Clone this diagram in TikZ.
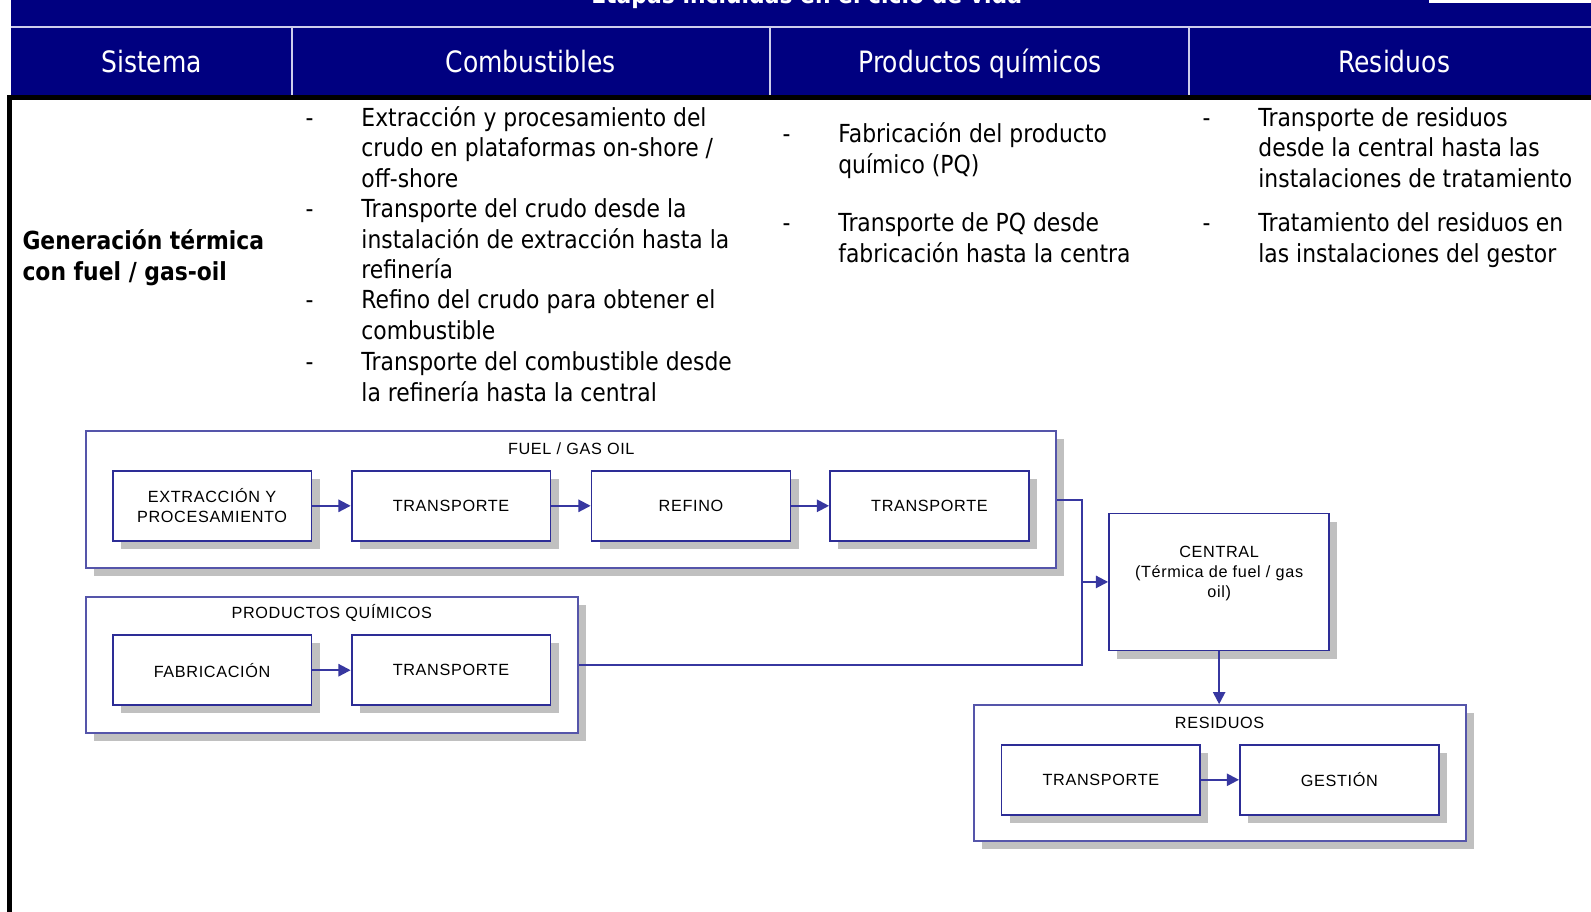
\documentclass[tikz,border=0pt]{standalone}
\usepackage{fontspec}
\setmainfont{DejaVu Sans}[FakeStretch=0.88]
\newfontfamily\headfont{DejaVu Sans}[FakeStretch=0.85]
\newfontfamily\diafont{Liberation Sans}[LetterSpace=4]
\usetikzlibrary{arrows.meta,shadows}
\definecolor{navy}{RGB}{0,0,128}
\definecolor{seplav}{RGB}{205,205,235}
\definecolor{boxblue}{RGB}{45,45,150}
\definecolor{outerblue}{RGB}{85,85,170}
\definecolor{linkblue}{RGB}{55,55,160}
\definecolor{shade}{RGB}{192,192,192}
\begin{document}
\begin{tikzpicture}[x=1pt,y=-1pt,
  hcell/.style={fill=navy, draw=none, inner sep=0, minimum height=67, anchor=north west},
  htext/.style={text=white, inner sep=0, anchor=base, font=\headfont\fontsize{29}{34}\selectfont},
  sepline/.style={draw=seplav, line width=1.6},
  bodytext/.style={anchor=base west, inner sep=0, align=left, font=\fontsize{24.5}{30.2}\selectfont},
  boldtext/.style={bodytext, font=\bfseries\fontsize{24.5}{30.2}\selectfont},
  dashmark/.style={anchor=base west, inner sep=0, font=\fontsize{24.5}{30.2}\selectfont},
  boxshadow/.style={drop shadow={shadow xshift=8pt, shadow yshift=-8pt, fill=shade, opacity=1}},
  container/.style={draw=outerblue, line width=2, fill=white, inner sep=0, boxshadow},
  stepbox/.style={draw=boxblue, line width=1.8, fill=white, inner sep=0, minimum width=196, minimum height=69, align=center, font=\diafont\fontsize{16}{20}\selectfont, boxshadow},
  grouplabel/.style={inner sep=0, anchor=base, font=\diafont\fontsize{16}{20}\selectfont},
  link/.style={draw=linkblue, line width=2},
  arr/.style={link, -{Triangle[length=12pt,width=12pt]}}
]
\useasboundingbox (0,0) rectangle (1568,898);
\clip (0,0) rectangle (1568,898);
\fill[white] (0,0) rectangle (1568,898);

% title band
\fill[navy] (11,0) rectangle (1590,27);
\node[text=white, anchor=base, inner sep=0, font=\bfseries\fontsize{24.5}{30}\selectfont] (title) at (795,3) {Etapas incluidas en el ciclo de vida};
\fill[white] (1408,0) rectangle (1590,3.2);
\fill[seplav] (11,25.6) rectangle (1590,27.6);

% header cells
\node[hcell, minimum width=277] (cs) at (11,27.6) {};
\node[hcell, minimum width=471] (cc) at (288,27.6) {};
\node[hcell, minimum width=413] (cp) at (759,27.6) {};
\node[hcell, minimum width=420] (cr) at (1172,27.6) {};
\draw[sepline] (cc.north west) -- (cc.south west);
\draw[sepline] (cp.north west) -- (cp.south west);
\draw[sepline] (cr.north west) -- (cr.south west);
\node[htext] (ts) at (149.5,71) {Sistema};
\node[htext] (tc) at (523,71) {Combustibles};
\node[htext] (tp) at (966,71) {Productos químicos};
\node[htext] (tr) at (1374,71) {Residuos};

% black frame
\draw[line width=5, black] (9.8,910) -- (9.8,96.2) -- (1590,96.2);

% body: sistema (anchor = baseline of last line)
\node[boldtext] (sis) at (22,276.5) {Generación térmica\\con fuel / gas-oil};

% combustibles
\node[dashmark] (d1) at (301,124.5) {-};
\node[bodytext] (c1) at (356,184.9) {Extracción y procesamiento del\\crudo en plataformas on-shore /\\off-shore};
\node[dashmark] (d2) at (301,214.5) {-};
\node[bodytext] (c2) at (356,274.9) {Transporte del crudo desde la\\instalación de extracción hasta la\\refinería};
\node[dashmark] (d3) at (301,304.5) {-};
\node[bodytext] (c3) at (356,334.7) {Refino del crudo para obtener el\\combustible};
\node[dashmark] (d4) at (301,365.5) {-};
\node[bodytext] (c4) at (356,395.7) {Transporte del combustible desde\\la refinería hasta la central};

% productos quimicos
\node[dashmark] (d5) at (771,140.5) {-};
\node[bodytext] (p1) at (826,170.7) {Fabricación del producto\\químico (PQ)};
\node[dashmark] (d6) at (771,228.5) {-};
\node[bodytext] (p2) at (826,258.7) {Transporte de PQ desde\\fabricación hasta la centra};

% residuos
\node[dashmark] (d7) at (1185,124.5) {-};
\node[bodytext] (r1) at (1240,184.9) {Transporte de residuos\\desde la central hasta las\\instalaciones de tratamiento};
\node[dashmark] (d8) at (1185,228.5) {-};
\node[bodytext] (r2) at (1240,258.7) {Tratamiento del residuos en\\las instalaciones del gestor};

% diagram containers
\node[container, minimum width=956, minimum height=135] (fuel) at (563,492.5) {};
\node[grouplabel] (fuellbl) at (563,448) {FUEL / GAS OIL};
\node[container, minimum width=485, minimum height=134] (pq) at (327.5,655) {};
\node[grouplabel] (pqlbl) at (327,610) {PRODUCTOS QUÍMICOS};
\node[container, minimum width=485, minimum height=134] (res) at (1202.5,762) {};
\node[grouplabel] (reslbl) at (1202,718) {RESIDUOS};

% steps
\node[stepbox] (ext) at (209,498.5) {EXTRACCIÓN Y\\PROCESAMIENTO};
\node[stepbox] (tr1) at (444.5,498.5) {TRANSPORTE};
\node[stepbox] (ref) at (681,498.5) {REFINO};
\node[stepbox] (tr2) at (916,498.5) {TRANSPORTE};
\node[stepbox] (fab) at (209,660.5) {FABRICACIÓN};
\node[stepbox] (tr3) at (444.5,660.5) {TRANSPORTE};
\node[stepbox] (tr4) at (1085,768.5) {TRANSPORTE};
\node[stepbox] (ges) at (1320,768.5) {GESTIÓN};

% central
\node[stepbox, minimum width=217, minimum height=135] (central) at (1201.5,573.5) {};
\node[grouplabel, align=center] (centraltxt) at (1201.5,589) {CENTRAL\\(Térmica de fuel / gas\\oil)};

% connectors
\draw[arr] (ext) -- (tr1);
\draw[arr] (tr1) -- (ref);
\draw[arr] (ref) -- (tr2);
\draw[arr] (fab) -- (tr3);
\draw[arr] (tr4) -- (ges);
\coordinate (join) at (1066,573.5);
\draw[link] (fuel.east) -| (join);
\draw[link] (pq.east) -| (join);
\draw[arr] (join) -- (central.west);
\draw[arr] (central.south) -- (central.south |- res.north);
\end{tikzpicture}
\end{document}
